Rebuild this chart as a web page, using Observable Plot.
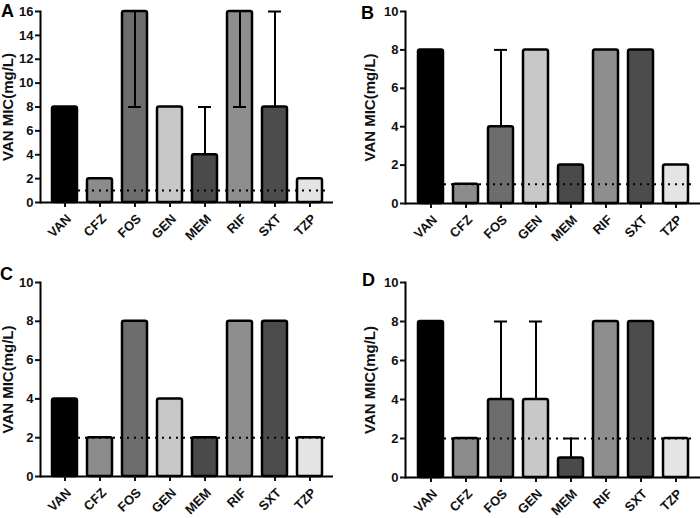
<!DOCTYPE html>
<html>
<head>
<meta charset="utf-8">
<script src="https://cdn.jsdelivr.net/npm/d3@7"></script>
<script src="https://cdn.jsdelivr.net/npm/@observablehq/plot@0.6"></script>
<style>
  body { margin: 0; background: #fff; font-family: "Liberation Sans", Arial, sans-serif; }
  #grid { display: flex; flex-wrap: wrap; width: 700px; height: 518px; }
  .panel { position: relative; width: 350px; height: 259px; }
  .panel svg { display: block; }
  .letter { position: absolute; font-weight: bold; font-size: 18px; line-height: 1; }
</style>
</head>
<body>
<div id="grid"></div>
<script>
const drugs = ["VAN", "CFZ", "FOS", "GEN", "MEM", "RIF", "SXT", "TZP"];
const shades = ["#000000", "#8c8c8c", "#6d6d6d", "#c8c8c8", "#4a4a4a", "#8e8e8e", "#4c4c4c", "#e4e4e4"];

// MIC values per panel
const micA = [8, 2, 16, 8, 4, 16, 8, 2];
const micB = [8, 1, 4, 8, 2, 8, 8, 2];
const micC = [4, 2, 8, 4, 2, 8, 8, 2];
const micD = [8, 2, 4, 4, 1, 8, 8, 2];

// error bar ends (null = none)
const errA = [null, null, 8, null, 8, 8, 16, null];
const errB = [null, null, 8, null, null, null, null, null];
const errC = [null, null, null, null, null, null, null, null];
const errD = [null, null, 8, 8, 2, null, null, null];

// dotted breakpoint line
const cutA = 1, cutB = 1, cutC = 2, cutD = 2;

const ticks16 = [0, 2, 4, 6, 8, 10, 12, 14, 16];
const ticks10 = [0, 2, 4, 6, 8, 10];
const yTitle = "VAN MIC(mg/L)";

function panel(letter, mic, err, cut, ticks, box) {
  const rows = drugs.map((d, i) => ({drug: d, mic: mic[i], err: err[i], shade: shades[i]}));
  const errs = rows.filter(d => d.err != null);

  const chart = Plot.plot({
    width: 350,
    height: 259,
    marginLeft: box.ml,
    marginRight: box.mr,
    marginTop: box.mt,
    marginBottom: box.mb,
    style: {fontFamily: "'Liberation Sans', Arial, sans-serif", color: "#111"},
    x: {domain: drugs, padding: 0.3},
    y: {domain: [ticks[0], ticks[ticks.length - 1]]},
    marks: [
      Plot.barY(rows, {x: "drug", y: "mic", fill: "shade", stroke: "#000", strokeWidth: 2.5, rx: 2}),
      Plot.ruleX(errs, {x: "drug", y1: "mic", y2: "err", stroke: "#000", strokeWidth: 2}),
      Plot.tickY(errs, {x: "drug", y: "err", stroke: "#000", strokeWidth: 2, insetLeft: 6, insetRight: 6}),
      Plot.ruleY([{y: cut, from: "CFZ", to: "TZP"}], {y: "y", x1: "from", x2: "to", stroke: "#000",
        strokeWidth: 2, strokeDasharray: "2,5", insetLeft: -9, insetRight: -6}),
      Plot.ruleY([0], {stroke: "#000", strokeWidth: 2}),
      Plot.frame({anchor: "left", stroke: "#000", strokeWidth: 2}),
      Plot.axisY({ticks: ticks, tickSize: 5, strokeWidth: 2, tickFormat: () => "", label: null}),
      Plot.text(ticks, {y: d => d, frameAnchor: "left", textAnchor: "end", dx: -7,
        fontSize: 13, fontWeight: "bold"}),
      Plot.text([yTitle], {frameAnchor: "left", textAnchor: "middle", rotate: -90, dx: -box.lo,
        fontSize: 15, fontWeight: "bold"}),
      Plot.axisX({tickSize: 5, strokeWidth: 2, tickFormat: () => "", label: null}),
      Plot.text(drugs, {x: d => d, frameAnchor: "bottom", rotate: -45, textAnchor: "end",
        dx: 7, dy: 17, fontSize: 13, fontWeight: "bold"})
    ]
  });

  // make sure the drug labels carry their slant
  d3.select(chart).selectAll("text")
    .filter(function () { return drugs.includes(this.textContent); })
    .attr("transform", function () {
      const t = this.getAttribute("transform") || "";
      return t.includes("rotate") ? t : t + " rotate(-45)";
    });

  const div = d3.select("#grid").append("div").attr("class", "panel");
  div.append(() => chart);
  div.append("div").attr("class", "letter")
    .style("left", box.lx + "px").style("top", box.ly + "px").text(letter);
}

panel("A", micA, errA, cutA, ticks16, {ml: 40, mr: 17, mt: 11, mb: 57, lo: 32, lx: 1, ly: 2});
panel("B", micB, errB, cutB, ticks10, {ml: 55, mr: 0, mt: 11, mb: 56, lo: 35, lx: 11, ly: 4});
panel("C", micC, errC, cutC, ticks10, {ml: 40, mr: 17, mt: 23, mb: 42, lo: 32, lx: 0, ly: 6});
panel("D", micD, errD, cutD, ticks10, {ml: 55, mr: 0, mt: 23, mb: 41, lo: 35, lx: 12, ly: 12});
</script>
</body>
</html>
